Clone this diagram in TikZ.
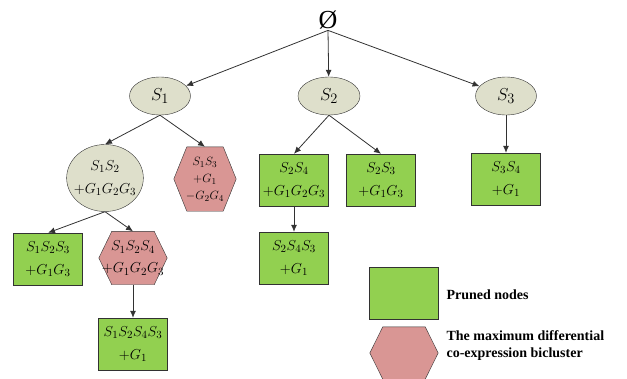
\documentclass[tikz,border=0pt]{standalone}
\usepackage{fontspec}
\newfontfamily\legendfont{Liberation Serif}
\usetikzlibrary{arrows.meta, positioning, shapes.geometric, backgrounds}
\definecolor{prunegreen}{RGB}{146,208,80}
\definecolor{hexpink}{RGB}{217,150,148}
\definecolor{setgray}{RGB}{222,223,203}
\definecolor{edgegray}{RGB}{50,50,50}

\begin{document}
\begin{tikzpicture}[x=1pt,y=-1pt,>={Latex[length=7pt,width=6pt]},
    setnode/.style={ellipse, draw=edgegray, fill=setgray, inner sep=0pt, align=center},
    prunedbox/.style={rectangle, draw=edgegray, fill=prunegreen, minimum width=69pt, minimum height=52pt, inner sep=0pt, align=center, font=\fontsize{15}{23}\selectfont},
    hexnode/.style={rectangle, inner sep=0pt, align=center},
    hexshape/.style={draw=edgegray, fill=hexpink, line join=miter},
    link/.style={->, draw=edgegray, line width=0.8pt}]
    \useasboundingbox (0,0) rectangle (627,378);

    % tree of sets
    \node[inner sep=1pt] (root) at (328,20) {\legendfont\fontsize{26}{26}\selectfont Ø};
    \node[setnode, minimum width=61pt, minimum height=38pt, font=\fontsize{19}{19}\selectfont] (S1) at (160,96) {$S_1$};
    \node[setnode, minimum width=62pt, minimum height=38pt, font=\fontsize{19}{19}\selectfont] (S2) at (329,96) {$S_2$};
    \node[setnode, minimum width=61pt, minimum height=38pt, font=\fontsize{19}{19}\selectfont] (S3) at (506,96) {$S_3$};

    \node[setnode, inner xsep=-4pt, inner ysep=2pt, minimum width=76pt, minimum height=67pt, font=\fontsize{15}{23}\selectfont] (S12) at (105,178) {$S_1S_2$\\$+G_1G_2G_3$};
    \node[hexnode, minimum width=62pt, minimum height=64pt, font=\fontsize{13}{17}\selectfont] (S13) at (205,179) {$S_1S_3$\\$+G_1$\\$-G_2G_4$};
    \node[prunedbox] (S24) at (294,180) {$S_2S_4$\\$+G_1G_2G_3$};
    \node[prunedbox] (S23) at (381,180) {$S_2S_3$\\$+G_1G_3$};
    \node[prunedbox] (S34) at (506,179) {$S_3S_4$\\$+G_1$};

    \node[prunedbox] (S123) at (48,259) {$S_1S_2S_3$\\$+G_1G_3$};
    \node[hexnode, minimum width=68pt, minimum height=53pt, font=\fontsize{15}{22}\selectfont] (S124) at (133,258) {$S_1S_2S_4$\\$+G_1G_2G_3$};
    \node[prunedbox] (S243) at (294,258) {$S_2S_4S_3$\\$+G_1$};
    \node[prunedbox] (S1243) at (133,344) {$S_1S_2S_4S_3$\\$+G_1$};

    % legend
    \node[prunedbox] (keybox) at (404,293) {};
    \node[hexnode, minimum width=68pt, minimum height=52pt] (keyhex) at (404,353) {};
    \node[anchor=west, font=\legendfont\bfseries\fontsize{14}{16}\selectfont] (keyboxtext) at (443,295) {Pruned nodes};
    \node[anchor=west, align=left, font=\legendfont\bfseries\fontsize{14}{17}\selectfont] (keyhextext) at (443,346) {The maximum differential\\co-expression bicluster};

    % hexagons behind their texts
    \begin{scope}[on background layer]
        \foreach \h in {S13,S124,keyhex}
            \draw[hexshape] (\h.west) -- ([xshift=13pt]\h.north west) -- ([xshift=-13pt]\h.north east)
                -- (\h.east) -- ([xshift=-13pt]\h.south east) -- ([xshift=13pt]\h.south west) -- cycle;
    \end{scope}

    \draw[link] (root.south) -- (S1);
    \draw[link] (root.south) -- (S2);
    \draw[link] (root.south) -- (S3);
    \draw[link] (S1.south) -- (S12.north);
    \draw[link] (S1.south) -- (S13.north);
    \draw[link] (S2.south) -- (S24.north);
    \draw[link] (S2.south) -- (S23.north);
    \draw[link] (S3) -- (S34);
    \draw[link] (S12.south) -- (S123.north);
    \draw[link] (S12.south) -- (S124.north);
    \draw[link] (S124) -- (S1243);
    \draw[link] (S24) -- (S243);
\end{tikzpicture}
\end{document}
